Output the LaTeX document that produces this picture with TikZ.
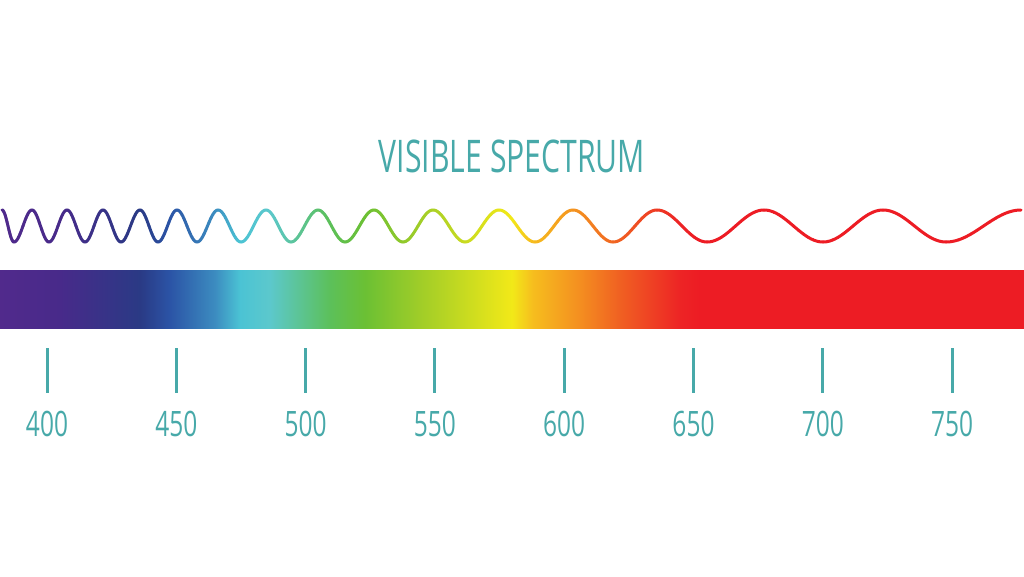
\documentclass[tikz,border=0pt]{standalone}
\usepackage{fontspec}
\newfontfamily\titlefont[FakeStretch=0.67]{Open Sans}
\newfontfamily\numfont[FakeStretch=0.7]{Open Sans}

\definecolor{specteal}{RGB}{71,169,169}
\definecolor{sp0}{RGB}{81,42,140}
\definecolor{sp1}{RGB}{72,42,138}
\definecolor{sp2}{RGB}{42,58,133}
\definecolor{sp3}{RGB}{43,84,166}
\definecolor{sp4}{RGB}{60,140,192}
\definecolor{sp5}{RGB}{75,195,212}
\definecolor{sp6}{RGB}{92,200,204}
\definecolor{sp7}{RGB}{92,192,90}
\definecolor{sp8}{RGB}{107,192,52}
\definecolor{sp9}{RGB}{160,205,40}
\definecolor{sp10}{RGB}{242,233,24}
\definecolor{sp11}{RGB}{246,190,30}
\definecolor{sp12}{RGB}{244,142,32}
\definecolor{sp13}{RGB}{240,96,34}
\definecolor{sp14}{RGB}{237,36,37}
\definecolor{sp15}{RGB}{237,28,36}

% x in px -> 25bp + x*50/1024
\pgfdeclarehorizontalshading{spectrum}{100bp}{
  color(0bp)=(sp0); color(25bp)=(sp0); color(27.93bp)=(sp1);
  color(31.84bp)=(sp2); color(33.30bp)=(sp3); color(35.50bp)=(sp4);
  color(36.72bp)=(sp5); color(38.18bp)=(sp6); color(41.11bp)=(sp7);
  color(42.82bp)=(sp8); color(45.51bp)=(sp9); color(50bp)=(sp10);
  color(51.00bp)=(sp11); color(53.32bp)=(sp12); color(55.27bp)=(sp13);
  color(58.20bp)=(sp14); color(59.18bp)=(sp15); color(100bp)=(sp15)}

% same stops as the bar, as a colour for a point of the wave
\newcommand\spectrumcol[1]{%
  \foreach \sa/\sb/\ca/\cb in {-10/60/sp0/sp1, 60/140/sp1/sp2,
      140/170/sp2/sp3, 170/215/sp3/sp4, 215/240/sp4/sp5, 240/270/sp5/sp6,
      270/330/sp6/sp7, 330/365/sp7/sp8, 365/420/sp8/sp9, 420/512/sp9/sp10,
      512/532/sp10/sp11, 532/580/sp11/sp12, 580/620/sp12/sp13,
      620/680/sp13/sp14, 680/700/sp14/sp15, 700/1100/sp15/sp15}{%
    \pgfmathparse{(#1>=\sa)&&(#1<\sb)}%
    \ifnum\pgfmathresult=1
      \pgfmathsetmacro\pp{(#1-\sa)/(\sb-\sa)*100}%
      \xdef\piececol{\cb!\pp!\ca}%
    \fi}}

\begin{document}
\begin{tikzpicture}[x=1pt,y=-1pt,
    titletext/.style={anchor=base,inner sep=0pt,text=specteal,
      font=\titlefont\fontsize{45}{50}\selectfont},
    nmlabel/.style={anchor=base,inner sep=0pt,text=specteal,
      font=\numfont\fontsize{35}{40}\selectfont},
    wavepiece/.style={line width=3pt,line cap=round},
    tick/.style={draw=specteal,line width=3pt}]
  \useasboundingbox[fill=white] (0,0) rectangle (1024,576);

  \node[titletext] (title) at (512,172) {VISIBLE SPECTRUM};

  % half waves: from x / to x / up(-1) or down(1) at the start
  \foreach \a/\b/\s in {2/14/-1, 14/32/1, 32/49/-1, 49/67/1,
      67/85/-1, 85/103/1, 103/121/-1, 121/140/1, 140/158/-1, 158/177/1,
      177/197/-1, 197/218/1, 218/241/-1, 241/266/1, 266/291/-1, 291/318/1,
      318/345/-1, 345/374/1, 374/403/-1, 403/433/1, 433/465/-1, 465/499/1,
      499/535/-1, 535/573/1, 573/613/-1, 613/657/1, 657/707/-1, 707/764/1,
      764/823/-1, 823/883/1, 883/946/-1, 946/1021/1} {
    \foreach \m in {0,...,11} {
      \pgfmathsetmacro\ta{\m/12}
      \pgfmathsetmacro\tb{(\m+1)/12}
      \pgfmathsetmacro\xm{\a+(\b-\a)*(\m+0.5)/12}
      \spectrumcol{\xm}
      \draw[wavepiece,color=\piececol]
        plot[domain=\ta:\tb,samples=4,variable=\t]
        ({\a+(\b-\a)*\t},{226+\s*16*cos(180*\t)});
    }
  }

  \shade[shading=spectrum] (0,270) rectangle (1024,328);

  \foreach \l [count=\i from 0] in {400,450,...,750} {
    \pgfmathsetmacro\x{47+129.3*\i}
    \coordinate (t\l) at (\x,348);
    \coordinate (b\l) at (\x,393);
    \draw[tick] (t\l) -- (b\l);
    \node[nmlabel] (n\l) at (\x,436) {\l};
  }
\end{tikzpicture}
\end{document}
